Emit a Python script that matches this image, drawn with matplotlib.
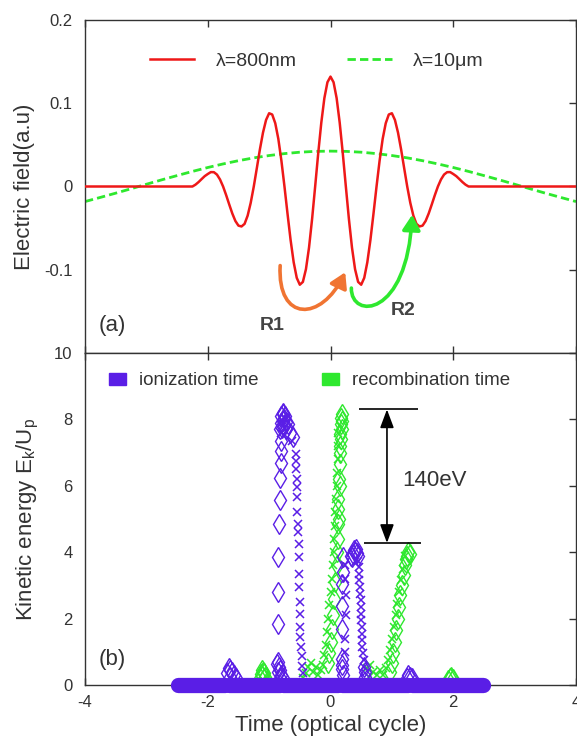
import numpy as np
import matplotlib
matplotlib.use('Agg')
import matplotlib.pyplot as plt
from matplotlib.path import Path
from matplotlib.patches import FancyArrowPatch, Patch

plt.rcParams['font.family'] = ['Liberation Sans', 'DejaVu Sans']

# ---------------- data: panel (a) ----------------
t_red = [-4.0,
         -2.25, -2.20, -2.15, -2.10, -2.05, -2.00, -1.95, -1.90, -1.85, -1.80,
         -1.75, -1.70, -1.65, -1.60, -1.55, -1.50, -1.45, -1.40, -1.35, -1.30,
         -1.25, -1.20, -1.15, -1.10, -1.05, -1.00, -0.95, -0.90, -0.85, -0.80,
         -0.75, -0.70, -0.65, -0.60, -0.55, -0.50, -0.45, -0.40, -0.35, -0.30,
         -0.25, -0.20, -0.15, -0.10, -0.05, 0.00,
         0.05, 0.10, 0.15, 0.20, 0.25, 0.30, 0.35, 0.40, 0.45, 0.50,
         0.55, 0.60, 0.65, 0.70, 0.75, 0.80, 0.85, 0.90, 0.95, 1.00,
         1.05, 1.10, 1.15, 1.20, 1.25, 1.30, 1.35, 1.40, 1.45, 1.50,
         1.55, 1.60, 1.65, 1.70, 1.75, 1.80, 1.85, 1.90, 1.95, 2.00,
         2.05, 2.10, 2.15, 2.20, 2.25,
         4.0]
e_red = [0.0,
         0.0000, 0.0022, 0.0053, 0.0089, 0.0124, 0.0150, 0.0173, 0.0172, 0.0143, 0.0084,
         0.0000, -0.0104, -0.0216, -0.0324, -0.0414, -0.0470, -0.0480, -0.0449, -0.0350, -0.0196,
         0.0000, 0.0222, 0.0447, 0.0647, 0.0799, 0.0880, 0.0865, 0.0760, 0.0572, 0.0310,
         0.0000, -0.0329, -0.0644, -0.0910, -0.1097, -0.1180, -0.1146, -0.0993, -0.0734, -0.0391,
         0.0000, 0.0400, 0.0766, 0.1061, 0.1252, 0.1320,
         0.1252, 0.1061, 0.0766, 0.0400, 0.0000, -0.0391, -0.0734, -0.0993, -0.1146, -0.1180,
         -0.1097, -0.0910, -0.0644, -0.0329, 0.0000, 0.0310, 0.0572, 0.0760, 0.0865, 0.0880,
         0.0799, 0.0647, 0.0447, 0.0222, 0.0000, -0.0196, -0.0350, -0.0449, -0.0480, -0.0470,
         -0.0414, -0.0324, -0.0216, -0.0104, 0.0000, 0.0084, 0.0143, 0.0172, 0.0173, 0.0150,
         0.0124, 0.0089, 0.0053, 0.0022, 0.0000,
         0.0]

t_ir = [-4.0, -3.75, -3.5, -3.25, -3.0, -2.75, -2.5, -2.25, -2.0, -1.75, -1.5, -1.25,
        -1.0, -0.75, -0.5, -0.25, 0.0, 0.25, 0.5, 0.75, 1.0, 1.25, 1.5, 1.75, 2.0,
        2.25, 2.5, 2.75, 3.0, 3.25, 3.5, 3.75, 4.0]
e_ir = [-0.0181, -0.0131, -0.0080, -0.0027, 0.0027, 0.0080, 0.0131, 0.0181, 0.0228,
        0.0271, 0.0310, 0.0344, 0.0372, 0.0395, 0.0412, 0.0422, 0.0425, 0.0422, 0.0412,
        0.0395, 0.0372, 0.0344, 0.0310, 0.0271, 0.0228, 0.0181, 0.0131, 0.0080, 0.0027,
        -0.0027, -0.0080, -0.0131, -0.0181]

# curved arrows (R1, R2) : start, control1, control2, end
arrow_r1 = [(-0.82, -0.095), (-0.87, -0.163), (-0.15, -0.163), (0.24, -0.103)]
arrow_r2 = [(0.34, -0.122), (0.33, -0.160), (1.25, -0.158), (1.33, -0.034)]

# ---------------- data: panel (b) ----------------
ion_d_t = [-0.86, -0.86, -0.85, -0.84, -0.83, -0.82, -0.81, -0.80, -0.80, -0.61,
           -0.82, -0.79, -0.76, -0.73, -0.81, -0.78, -0.75, -0.72, -0.80, -0.77, -0.74, -0.78, -0.70, -0.66,
           -0.87, -0.84, -0.82, -0.86, -0.80, -0.83, -0.78, -0.85,
           0.20, 0.21, 0.19, 0.19, 0.18, 0.18, 0.19, 0.19, 0.20,
           0.34, 0.37, 0.40, 0.43, 0.38, 0.41, 0.35, 0.44,
           -1.66, -1.63, -1.60, -1.57, -1.54, -1.68, -1.64,
           1.27, 1.30, 1.33, 1.25,
           0.55, 0.57, 0.56]
ion_d_e = [1.84, 2.80, 3.86, 4.86, 5.57, 6.22, 6.68, 7.04, 7.34, 7.46,
           7.70, 7.75, 7.80, 7.72, 7.90, 7.95, 8.00, 7.92, 8.10, 8.15, 8.10, 8.20, 7.85, 7.60,
           0.62, 0.55, 0.45, 0.38, 0.30, 0.22, 0.20, 0.70,
           3.86, 3.40, 3.04, 2.38, 1.69, 0.78, 0.60, 0.48, 0.30,
           3.90, 3.95, 4.00, 3.98, 4.08, 4.10, 3.85, 3.90,
           0.50, 0.45, 0.38, 0.30, 0.22, 0.35, 0.25,
           0.30, 0.25, 0.20, 0.20,
           0.55, 0.40, 0.25]

ion_x_t = [-0.57, -0.56, -0.56, -0.55, -0.55, -0.54, -0.54, -0.53, -0.53, -0.52, -0.52,
           -0.51, -0.51, -0.50, -0.50, -0.49, -0.49, -0.48, -0.47, -0.46, -0.45,
           -0.80, -0.76, -0.72, -0.62,
           0.45, 0.46, 0.47, 0.47, 0.48, 0.48, 0.49, 0.49, 0.50, 0.50, 0.51, 0.51,
           0.52, 0.52, 0.53, 0.54, 0.55, 0.56,
           0.24, 0.24, 0.25, 0.25, 0.24, 0.23]
ion_x_e = [6.95, 6.75, 6.50, 6.20, 5.95, 5.66, 5.20, 4.85, 4.60, 4.25, 3.86,
           3.34, 2.95, 2.50, 2.14, 1.75, 1.45, 1.14, 0.87, 0.57, 0.35,
           7.60, 8.05, 8.00, 7.35,
           3.75, 3.55, 3.35, 3.15, 2.95, 2.75, 2.55, 2.35, 2.15, 1.95, 1.75, 1.55,
           1.35, 1.15, 0.95, 0.75, 0.55, 0.35,
           3.60, 3.20, 2.70, 2.10, 1.40, 1.00]

rec_d_t = [0.18, 0.17, 0.19, 0.17, 0.18, 0.16, 0.17, 0.16, 0.15, 0.15, 0.14, 0.13, 0.13,
           0.12, 0.12, 0.11, 0.10, 0.08, 0.06, 0.04, 0.02, 0.00, -0.02, -0.04, 0.16, 0.14,
           1.27, 1.25, 1.23, 1.29, 1.21, 1.19, 1.16, 1.14, 1.12, 1.10, 1.07, 1.05, 1.02,
           1.00, 0.97,
           -1.12, -1.10, -1.08, -1.14, -1.11, -1.06, -1.15, -1.09,
           1.94, 1.97, 2.00, 1.92]
rec_d_e = [8.15, 8.05, 7.95, 7.85, 7.70, 7.55, 7.40, 7.20, 7.00, 6.65, 6.20, 5.60, 5.30,
           4.85, 4.40, 4.00, 3.60, 3.10, 2.60, 2.10, 1.70, 1.30, 0.95, 0.65, 6.00, 5.00,
           4.00, 3.90, 3.80, 3.95, 3.60, 3.30, 3.00, 2.70, 2.35, 2.00, 1.65, 1.30, 0.95,
           0.65, 0.40,
           0.45, 0.40, 0.35, 0.33, 0.28, 0.25, 0.22, 0.20,
           0.22, 0.25, 0.18, 0.15]

rec_x_t = [0.12, 0.13, 0.12, 0.11, 0.10, 0.09, 0.08, 0.07, 0.06, 0.05, 0.04, 0.02, 0.00,
           -0.02, -0.04, -0.06, -0.08, -0.10, -0.12,
           -0.45, -0.40, -0.36, -0.32, -0.28, -0.24, -0.20, -0.16,
           1.22, 1.18, 1.15, 1.12, 1.09, 1.06, 1.03, 1.00, 0.97, 0.94, 0.90, 0.86,
           0.60, 0.65, 0.70, 0.75, 0.80, 0.62]
rec_x_e = [7.60, 7.20, 6.80, 6.40, 6.00, 5.60, 5.20, 4.80, 4.40, 4.00, 3.60, 3.20, 2.80,
           2.40, 2.00, 1.60, 1.20, 0.90, 0.60,
           0.20, 0.35, 0.55, 0.65, 0.40, 0.55, 0.30, 0.45,
           3.90, 3.50, 3.15, 2.80, 2.45, 2.10, 1.75, 1.40, 1.05, 0.75, 0.50, 0.30,
           0.50, 0.60, 0.40, 0.30, 0.45, 0.25]

band_start = [-2.48, -1.66, -0.77, 0.18, 1.32]
band_end = [-1.72, -0.83, 0.12, 1.26, 2.49]

cut_t = [0.92]
cut_high = [8.30]
cut_low = [4.28]

RED = '#ee1818'
GREEN = '#2ee82e'
PURPLE = '#5a1ee6'
ORANGE = '#f07432'
SPINE = '#333333'

fig = plt.figure(figsize=(5.77, 7.41), dpi=100)
ax1 = fig.add_axes([85/577, 1-353/741, 491/577, 333/741])
ax2 = fig.add_axes([85/577, 1-685/741, 491/577, 332/741])

# ---- panel (a)
ax1.plot(t_red, e_red, color=RED, lw=1.8, label='λ=800nm', zorder=3)
ax1.plot(t_ir, e_ir, color=GREEN, lw=2.0, ls=(0, (3.0, 1.5)), label='λ=10μm', zorder=2)
ax1.set_xlim(-4, 4)
ax1.set_ylim(-0.2, 0.2)
ax1.set_yticks([-0.1, 0, 0.1, 0.2])
ax1.set_yticklabels(['-0.1', '0', '0.1', '0.2'])
ax1.set_xticks([-4, -2, 0, 2, 4])
ax1.tick_params(axis='x', which='both', direction='in', top=True, bottom=True,
                labelbottom=False, length=5, width=1, color=SPINE)
ax1.tick_params(axis='y', direction='in', left=False, right=True, length=5, width=1,
                color=SPINE, labelsize=12, labelcolor=SPINE, pad=9)
ax1.set_ylabel('Electric field(a.u)', fontsize=16, color=SPINE)
ax1.yaxis.set_label_coords(-0.102, 0.5)
ax1.legend(loc='center', bbox_to_anchor=(0.472, 0.877), ncol=2, frameon=False,
           handlelength=2.3, handletextpad=1.1, columnspacing=2.6, fontsize=14,
           labelcolor=SPINE)
ax1.text(0.028, 0.065, '(a)', transform=ax1.transAxes, fontsize=16, color=SPINE)
ax1.text(-0.955, -0.167, 'R1', fontsize=14, fontweight='bold', color='#444444',
         ha='center', va='center')
ax1.text(1.18, -0.149, 'R2', fontsize=14, fontweight='bold', color='#444444',
         ha='center', va='center')

codes = [Path.MOVETO, Path.CURVE4, Path.CURVE4, Path.CURVE4]
for pts, col in ((arrow_r1, ORANGE), (arrow_r2, GREEN)):
    arr = FancyArrowPatch(path=Path(pts, codes), arrowstyle='-|>,head_length=0.5,head_width=0.3',
                          mutation_scale=18, lw=2.6, color=col, zorder=4)
    ax1.add_patch(arr)

# ---- panel (b)
ax2.plot(rec_d_t, rec_d_e, ls='none', marker='d', ms=10, mfc='none', mec=GREEN, mew=1.0, zorder=2)
ax2.plot(rec_x_t, rec_x_e, ls='none', marker='x', ms=5.5, mec=GREEN, mew=1.1, zorder=2)
ax2.plot(ion_d_t, ion_d_e, ls='none', marker='d', ms=10, mfc='none', mec=PURPLE, mew=1.0, zorder=3)
ax2.plot(ion_x_t, ion_x_e, ls='none', marker='x', ms=5.5, mec=PURPLE, mew=1.1, zorder=3)
for s, e in zip(band_start, band_end):
    ax2.plot([s, e], [0, 0], color=PURPLE, lw=11, solid_capstyle='round', zorder=5,
             clip_on=False)

ax2.hlines(cut_high, [0.46], [1.42], color='black', lw=1.2)
ax2.hlines(cut_low, [0.55], [1.47], color='black', lw=1.2)
for x, hi, lo in zip(cut_t, cut_high, cut_low):
    ax2.annotate('', xy=(x, hi), xytext=(x, lo),
                 arrowprops=dict(arrowstyle='<|-|>,head_length=0.8,head_width=0.3',
                                 color='black', lw=1.2, mutation_scale=14,
                                 shrinkA=0, shrinkB=0))
ax2.text(1.17, 6.15, '140eV', fontsize=16, color=SPINE, ha='left', va='center')
ax2.text(0.028, 0.06, '(b)', transform=ax2.transAxes, fontsize=16, color=SPINE)

ax2.set_xlim(-4, 4)
ax2.set_ylim(0, 10)
ax2.set_xticks([-4, -2, 0, 2, 4])
ax2.set_xticklabels(['-4', '-2', '0', '2', '4'])
ax2.set_yticks([0, 2, 4, 6, 8, 10])
ax2.tick_params(axis='x', direction='in', top=True, bottom=True, length=5, width=1,
                color=SPINE, labelsize=12, labelcolor=SPINE, pad=7)
ax2.tick_params(axis='y', direction='in', left=False, right=True, length=5, width=1,
                color=SPINE, labelsize=12, labelcolor=SPINE, pad=9)
ax2.set_xlabel('Time (optical cycle)', fontsize=16, color=SPINE, labelpad=4)
ax2.set_ylabel(r'Kinetic energy E$_\mathregular{k}$/U$_\mathregular{p}$', fontsize=16, color=SPINE)
ax2.yaxis.set_label_coords(-0.09, 0.5)
handles = [Patch(facecolor=PURPLE, edgecolor=PURPLE), Patch(facecolor=GREEN, edgecolor=GREEN)]
ax2.legend(handles, ['ionization time', 'recombination time'], loc='center',
           bbox_to_anchor=(0.458, 0.916), ncol=2, frameon=False, handlelength=0.9,
           handleheight=0.6, handletextpad=0.7, columnspacing=3.4, fontsize=13.5,
           labelcolor=SPINE)

for ax in (ax1, ax2):
    for sp in ax.spines.values():
        sp.set_color(SPINE)
        sp.set_linewidth(1.0)

fig.savefig('out.png', dpi=100)
